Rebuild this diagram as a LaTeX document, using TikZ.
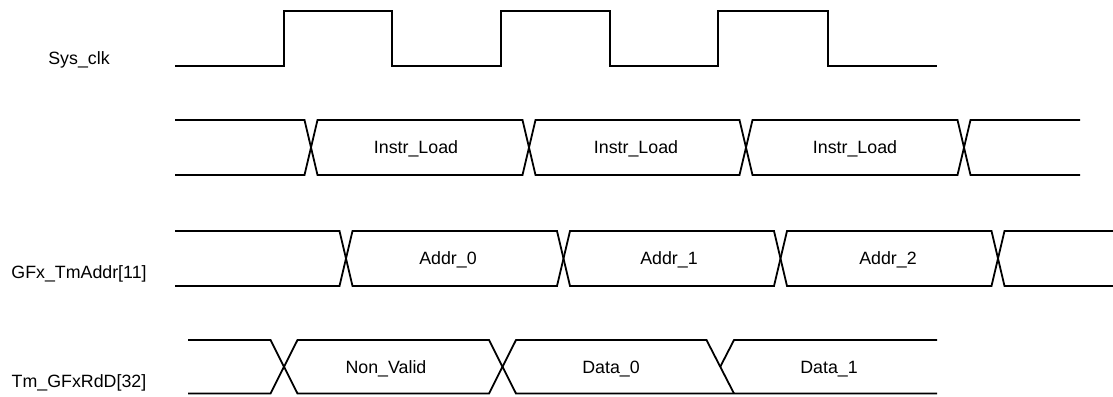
\documentclass[tikz,border=0pt]{standalone}
\usepackage{fontspec}
\setmainfont{Liberation Sans}
\begin{document}
\begin{tikzpicture}[x=1pt,y=-1pt,
  wave/.style={line width=1.8pt, line join=miter, line cap=butt},
  sig/.style={font=\fontsize{17.8}{20}\selectfont, inner sep=0pt,
              text height=12.6pt, text depth=0pt, anchor=center},
  val/.style={sig}]
\useasboundingbox (0,0) rectangle (1113,396);

% signal names
\node[sig] (nclk)  at (79,58)  {Sys\_clk};
\node[sig] (naddr) at (79,272) {GFx\_TmAddr[11]};
\node[sig] (ndata) at (79,381) {Tm\_GFxRdD[32]};

% system clock
\draw[wave] (175,66) -- (284,66) -- (284,11) -- (392,11) -- (392,66)
  -- (501,66) -- (501,11) -- (610,11) -- (610,66)
  -- (718,66) -- (718,11) -- (828,11) -- (828,66) -- (937,66);

% instruction bus
\draw[wave] (175,120) -- (304.5,120) -- (317.5,175) -- (522.5,175) -- (535.5,120)
  -- (739.5,120) -- (752.5,175) -- (957.5,175) -- (970.5,120) -- (1080,120);
\draw[wave] (175,175) -- (304.5,175) -- (317.5,120) -- (522.5,120) -- (535.5,175)
  -- (739.5,175) -- (752.5,120) -- (957.5,120) -- (970.5,175) -- (1080,175);
\node[val] (i0) at (416,147.5) {Instr\_Load};
\node[val] (i1) at (636,147.5) {Instr\_Load};
\node[val] (i2) at (855,147.5) {Instr\_Load};

% address bus
\draw[wave] (175,231) -- (339.5,231) -- (352.5,286) -- (557,286) -- (570,231)
  -- (774,231) -- (787,286) -- (991.5,286) -- (1004.5,231) -- (1113,231);
\draw[wave] (175,286) -- (339.5,286) -- (352.5,231) -- (557,231) -- (570,286)
  -- (774,286) -- (787,231) -- (991.5,231) -- (1004.5,286) -- (1113,286);
\node[val] (a0) at (448,258.5) {Addr\_0};
\node[val] (a1) at (669,258.5) {Addr\_1};
\node[val] (a2) at (888,258.5) {Addr\_2};

% read data bus
\draw[wave] (188,340) -- (270.5,340) -- (297.5,393.5) -- (489,393.5) -- (516,340)
  -- (706.5,340) -- (734,393.5);
\draw[wave] (188,393.5) -- (270.5,393.5) -- (297.5,340) -- (489,340) -- (516,393.5)
  -- (937,393.5);
\draw[wave] (720.25,366.75) -- (734,340) -- (937,340);
\node[val] (d0) at (386,367) {Non\_Valid};
\node[val] (d1) at (611,367) {Data\_0};
\node[val] (d2) at (829,367) {Data\_1};
\end{tikzpicture}
\end{document}
